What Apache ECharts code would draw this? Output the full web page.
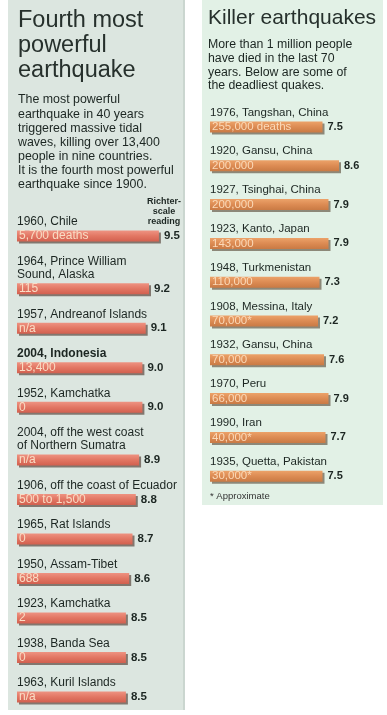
<!DOCTYPE html>
<html>
<head>
<meta charset="utf-8">
<script src="https://cdn.jsdelivr.net/npm/echarts@6/dist/echarts.min.js"></script>
<style>
html,body{margin:0;padding:0;background:#fff;}
#c{width:387px;height:715px;}
</style>
</head>
<body>
<div id="c"></div>
<script>
// ---- Left panel data: most powerful earthquakes ----
const leftPlaces = [
  "1960, Chile",
  "1964, Prince William\nSound, Alaska",
  "1957, Andreanof Islands",
  "2004, Indonesia",
  "1952, Kamchatka",
  "2004, off the west coast\nof Northern Sumatra",
  "1906, off the coast of Ecuador",
  "1965, Rat Islands",
  "1950, Assam-Tibet",
  "1923, Kamchatka",
  "1938, Banda Sea",
  "1963, Kuril Islands"
];
const leftDeaths = ["5,700 deaths","115","n/a","13,400","0","n/a","500 to 1,500","0","688","2","0","n/a"];
const leftRichter = [9.5, 9.2, 9.1, 9.0, 9.0, 8.9, 8.8, 8.7, 8.6, 8.5, 8.5, 8.5];
const leftHighlight = "2004, Indonesia";

// ---- Right panel data: killer earthquakes ----
const rightPlaces = [
  "1976, Tangshan, China",
  "1920, Gansu, China",
  "1927, Tsinghai, China",
  "1923, Kanto, Japan",
  "1948, Turkmenistan",
  "1908, Messina, Italy",
  "1932, Gansu, China",
  "1970, Peru",
  "1990, Iran",
  "1935, Quetta, Pakistan"
];
const rightDeaths = ["255,000 deaths","200,000","200,000","143,000","110,000","70,000*","70,000","66,000","40,000*","30,000*"];
const rightRichter = [7.5, 8.6, 7.9, 7.9, 7.3, 7.2, 7.6, 7.9, 7.7, 7.5];

// Left rows: a label with more lines takes an extra row slot
const leftSlots = [];
leftPlaces.forEach((p, i) => {
  if (i > 0) {
    const gap = p.split("\n").length + 2;
    for (let k = 0; k < gap - 1; k++) leftSlots.push(-1);
  }
  leftSlots.push(i);
});
const leftCats = leftSlots.map((s, k) => "s" + k);
const leftData = leftSlots.map(s => (s < 0 ? "-" : leftRichter[s]));

const FONT = "'Liberation Sans', Arial, sans-serif";
const INK = "#1c2622";

const leftBarStyle = {
  color: new echarts.graphic.LinearGradient(0, 0, 0, 1, [
    { offset: 0, color: "#ee9382" },
    { offset: 0.5, color: "#e27663" },
    { offset: 1, color: "#d2604f" }
  ]),
  shadowColor: "rgba(70,45,35,0.6)",
  shadowOffsetX: 2,
  shadowOffsetY: 2,
  shadowBlur: 0
};
const rightBarStyle = {
  color: new echarts.graphic.LinearGradient(0, 0, 0, 1, [
    { offset: 0, color: "#eca269" },
    { offset: 0.5, color: "#dc8b53" },
    { offset: 1, color: "#c97a44" }
  ]),
  shadowColor: "rgba(70,50,30,0.55)",
  shadowOffsetX: 2,
  shadowOffsetY: 2,
  shadowBlur: 0
};

const chart = echarts.init(document.getElementById("c"), null, { renderer: "canvas" });

const hiddenX = (min, max, gi) => ({
  type: "value", gridIndex: gi, min: min, max: max, show: false
});

chart.setOption({
  animation: false,
  backgroundColor: "#ffffff",
  textStyle: { fontFamily: FONT },
  grid: [
    { left: 17, top: 229.5, width: 165, height: 474, containLabel: false },
    { left: 210, top: 107.6, width: 165, height: 388, containLabel: false }
  ],
  xAxis: [hiddenX(5.2, 10.2, 0), hiddenX(0, 11, 1)],
  yAxis: [
    { type: "category", gridIndex: 0, data: leftCats, inverse: true, show: false },
    { type: "category", gridIndex: 1, data: rightPlaces, inverse: true, show: false }
  ],
  graphic: [
    { type: "rect", z: -10, silent: true, shape: { x: 8, y: 0, width: 177, height: 710 },
      style: { fill: "#dce6e0" } },
    { type: "line", z: -9, silent: true, shape: { x1: 184, y1: 0, x2: 184, y2: 710 },
      style: { stroke: "#b9c6bf", lineWidth: 1 } },
    { type: "rect", z: -10, silent: true, shape: { x: 202, y: 0, width: 181, height: 505 },
      style: { fill: "#e2f1e6" } },
    { type: "text", z: 10, x: 18, y: 8, silent: true,
      style: { text: "Fourth most\npowerful\nearthquake", font: "23.5px " + FONT,
        fill: "#26302c", lineHeight: 25, verticalAlign: "top" } },
    { type: "text", z: 10, x: 18, y: 93, silent: true,
      style: { text: "The most powerful\nearthquake in 40 years\ntriggered massive tidal\nwaves, killing over 13,400\npeople in nine countries.\nIt is the fourth most powerful\nearthquake since 1900.",
        font: "12.4px " + FONT, fill: INK, lineHeight: 14.1, verticalAlign: "top" } },
    { type: "text", z: 10, x: 164, y: 197, silent: true,
      style: { text: "Richter-\nscale\nreading", font: "bold 9px " + FONT, fill: INK,
        lineHeight: 10, align: "center", verticalAlign: "top" } },
    { type: "text", z: 10, x: 208, y: 7, silent: true,
      style: { text: "Killer earthquakes", font: "21px " + FONT, fill: "#26302c",
        lineHeight: 22, verticalAlign: "top" } },
    { type: "text", z: 10, x: 208, y: 38, silent: true,
      style: { text: "More than 1 million people\nhave died in the last 70\nyears. Below are some of\nthe deadliest quakes.",
        font: "12.3px " + FONT, fill: INK, lineHeight: 13.7, verticalAlign: "top" } },
    { type: "text", z: 10, x: 210, y: 491, silent: true,
      style: { text: "* Approximate", font: "9.5px " + FONT, fill: "#333", verticalAlign: "top" } }
  ],
  series: [
    // left bars with death counts inside
    { type: "bar", xAxisIndex: 0, yAxisIndex: 0, data: leftData, barWidth: 11, barGap: "-100%",
      silent: true, itemStyle: leftBarStyle,
      label: { show: true, position: "insideLeft", distance: 2, color: "#f9dcc4", fontSize: 12,
        fontFamily: FONT,
        formatter: p => (leftSlots[p.dataIndex] < 0 ? "" : leftDeaths[leftSlots[p.dataIndex]]) } },
    // left place names above bars
    { type: "bar", xAxisIndex: 0, yAxisIndex: 0, data: leftData, barWidth: 11, barGap: "-100%",
      silent: true, itemStyle: { color: "rgba(0,0,0,0)" },
      label: { show: true, position: [0, -2], align: "left", verticalAlign: "bottom",
        color: INK, fontSize: 12, lineHeight: 13, fontFamily: FONT,
        formatter: p => {
          const s = leftSlots[p.dataIndex];
          if (s < 0) return "";
          const t = leftPlaces[s];
          return t === leftHighlight ? "{b|" + t + "}" : t;
        },
        rich: { b: { fontWeight: "bold", fontSize: 12, color: INK, fontFamily: FONT } } } },
    // left magnitude readings
    { type: "bar", xAxisIndex: 0, yAxisIndex: 0, data: leftData, barWidth: 11, barGap: "-100%",
      silent: true, itemStyle: { color: "rgba(0,0,0,0)" },
      label: { show: true, position: "right", distance: 5, color: INK, fontSize: 11.5,
        fontWeight: "bold", fontFamily: FONT,
        formatter: p => (leftSlots[p.dataIndex] < 0 ? "" : leftRichter[leftSlots[p.dataIndex]].toFixed(1)) } },
    // right bars
    { type: "bar", xAxisIndex: 1, yAxisIndex: 1, data: rightRichter, barWidth: 11, barGap: "-100%",
      silent: true, itemStyle: rightBarStyle,
      label: { show: true, position: "insideLeft", distance: 2, color: "#fbd9b8", fontSize: 11.5,
        fontFamily: FONT, formatter: p => rightDeaths[p.dataIndex] } },
    { type: "bar", xAxisIndex: 1, yAxisIndex: 1, data: rightRichter, barWidth: 11, barGap: "-100%",
      silent: true, itemStyle: { color: "rgba(0,0,0,0)" },
      label: { show: true, position: [0, -3], align: "left", verticalAlign: "bottom",
        color: INK, fontSize: 11.5, fontFamily: FONT, formatter: p => rightPlaces[p.dataIndex] } },
    { type: "bar", xAxisIndex: 1, yAxisIndex: 1, data: rightRichter, barWidth: 11, barGap: "-100%",
      silent: true, itemStyle: { color: "rgba(0,0,0,0)" },
      label: { show: true, position: "right", distance: 5, color: INK, fontSize: 11,
        fontWeight: "bold", fontFamily: FONT, formatter: p => rightRichter[p.dataIndex].toFixed(1) } }
  ]
});
</script>
</body>
</html>
